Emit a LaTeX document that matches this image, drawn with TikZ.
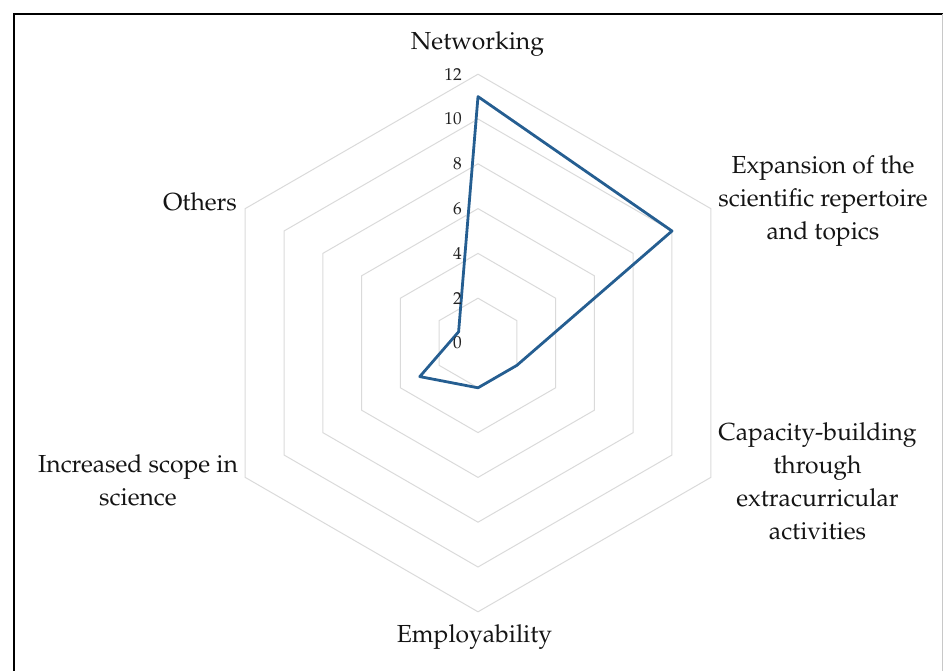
\documentclass[tikz,border=0pt]{standalone}
\usepackage{tikz}
\usepackage[T1]{fontenc}
\usepackage{mathpazo}
\usetikzlibrary{arrows.meta, positioning}

\begin{document}
\begin{tikzpicture}[x=0.75pt,y=0.75pt,yscale=-1,xscale=1,
  gridline/.style={color={rgb, 255:red, 218; green, 218; blue, 218 }, line width=0.75},
  serieline/.style={color={rgb, 255:red, 37; green, 94; blue, 145 }, line width=2.1, line join=round},
  ticklabel/.style={anchor=east, inner sep=0.75pt, text={rgb, 255:red, 34; green, 34; blue, 34 }, font=\fontsize{13}{15}\selectfont},
  catlabel/.style={align=center, inner sep=0.75pt, text={rgb, 255:red, 20; green, 20; blue, 20 }, font=\fontsize{18.5}{24.8}\selectfont}]
%set diagram to 943 x 671
\path[use as bounding box] (0,0) rectangle (943,671);

%Frame
\draw [line width=1.5]  (13.5,671) -- (13.5,13.5) -- (943,13.5) ;
\draw [color={rgb, 255:red, 200; green, 200; blue, 200 }, line width=0.75]  (942,13.5) -- (942,671) ;

%Shape: Hexagon [level 2]
\draw [gridline]  (478,298.2) -- (516.8,320.6) -- (516.8,365.4) -- (478,387.8) -- (439.2,365.4) -- (439.2,320.6) -- cycle ;
%Shape: Hexagon [level 4]
\draw [gridline]  (478,253.4) -- (555.6,298.2) -- (555.6,387.8) -- (478,432.6) -- (400.4,387.8) -- (400.4,298.2) -- cycle ;
%Shape: Hexagon [level 6]
\draw [gridline]  (478,208.6) -- (594.39,275.8) -- (594.39,410.2) -- (478,477.4) -- (361.61,410.2) -- (361.61,275.8) -- cycle ;
%Shape: Hexagon [level 8]
\draw [gridline]  (478,163.8) -- (633.19,253.4) -- (633.19,432.6) -- (478,522.2) -- (322.81,432.6) -- (322.81,253.4) -- cycle ;
%Shape: Hexagon [level 10]
\draw [gridline]  (478,119) -- (671.99,231) -- (671.99,455) -- (478,567) -- (284.01,455) -- (284.01,231) -- cycle ;
%Shape: Hexagon [level 12]
\draw [gridline]  (478,74.2) -- (710.79,208.6) -- (710.79,477.4) -- (478,611.8) -- (245.21,477.4) -- (245.21,208.6) -- cycle ;

%Straight Lines [series]
\draw [serieline]  (478,96.6) -- (671.99,231) -- (516.8,365.4) -- (478,387.8) -- (419.8,376.6) -- (458.6,331.8) -- cycle ;

% Text Node
\draw (463,343) node [ticklabel] (tick0)  {0};
% Text Node
\draw (463,298.2) node [ticklabel] (tick2)  {2};
% Text Node
\draw (463,253.4) node [ticklabel] (tick4)  {4};
% Text Node
\draw (463,208.6) node [ticklabel] (tick6)  {6};
% Text Node
\draw (463,163.8) node [ticklabel] (tick8)  {8};
% Text Node
\draw (463,119) node [ticklabel] (tick10)  {10};
% Text Node
\draw (463,74.2) node [ticklabel] (tick12)  {12};

% Text Node
\draw (477.5,44) node [catlabel] (networking)  {Networking};
% Text Node
\draw (823,201) node [catlabel] (expansion)  {Expansion of the\\scientific repertoire\\and topics};
% Text Node
\draw (817.5,481) node [catlabel] (capacity)  {Capacity-building\\through\\extracurricular\\activities};
% Text Node
\draw (474.5,637) node [catlabel] (employability)  {Employability};
% Text Node
\draw (138,480) node [catlabel] (scope)  {Increased scope in\\science};
% Text Node
\draw (200,202) node [catlabel] (others)  {Others};

\end{tikzpicture}
\end{document}
